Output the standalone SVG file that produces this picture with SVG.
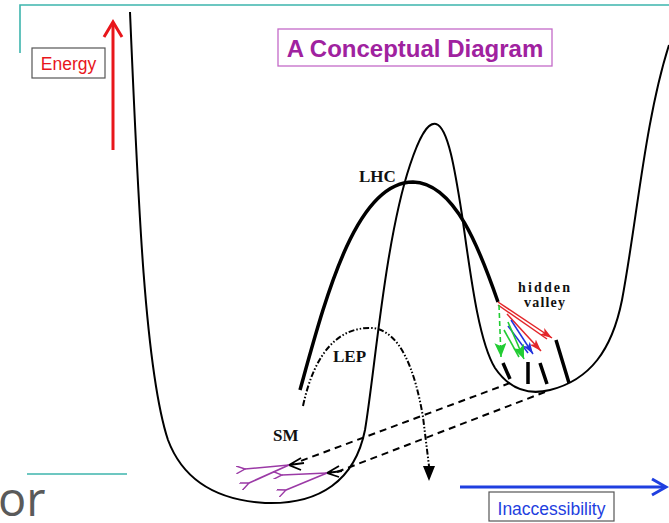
<svg xmlns="http://www.w3.org/2000/svg" width="669" height="523" viewBox="0 0 669 523">
<style>
.teal{stroke:#3db5ad;stroke-width:1.6;fill:none}
.curve{stroke:#000;stroke-width:2;fill:none}
.thick{stroke:#000;stroke-width:3.5;fill:none;stroke-linecap:butt}
.dash{stroke:#000;stroke-width:2;fill:none;stroke-dasharray:7 5}
.box{fill:#fff;stroke:#555;stroke-width:1.2}
.lbl{font-family:"Liberation Serif",serif;font-weight:bold;fill:#111}
.sans{font-family:"Liberation Sans",Arial,sans-serif}
.red{stroke:#e3262a;stroke-width:1.5;fill:none}
.blue{stroke:#2233dd;stroke-width:1.5;fill:none}
.green{stroke:#22cc33;stroke-width:1.6;fill:none}
.purple{stroke:#9b3aa6;stroke-width:1.6;fill:none}
</style>
<defs>
<marker id="mRed" viewBox="0 0 12 8" refX="12" refY="4" markerWidth="12" markerHeight="8" markerUnits="userSpaceOnUse" orient="auto"><path d="M0,0 L12,4 L0,8 L3,4 z" fill="#e3262a"/></marker>
<marker id="mBlue" viewBox="0 0 12 8" refX="12" refY="4" markerWidth="12" markerHeight="8" markerUnits="userSpaceOnUse" orient="auto"><path d="M0,0 L12,4 L0,8 L3,4 z" fill="#2233dd"/></marker>
<marker id="mGreen" viewBox="0 0 14 12" refX="14" refY="6" markerWidth="14" markerHeight="12" markerUnits="userSpaceOnUse" orient="auto"><path d="M0,0 L14,6 L0,12 L3,6 z" fill="#22cc33"/></marker>
<marker id="mPurple" viewBox="0 0 10 8" refX="1" refY="4" markerWidth="10" markerHeight="8" markerUnits="userSpaceOnUse" orient="auto-start-reverse"><path d="M10,0 L1,4 L10,8" fill="none" stroke="#9b3aa6" stroke-width="1.4"/></marker>
</defs>

<g id="frame">
<path class="teal" d="M20,53 L20,5 L669,5"/>
<path class="teal" d="M27,474 L127,474"/>
<text x="-2" y="516" font-family="'Open Sans','Liberation Sans',sans-serif" font-size="47" fill="#5a5a5a">or</text>
</g>

<g id="energy-axis">
<path d="M113,150 L113,23" stroke="#e8161b" stroke-width="3" fill="none"/>
<path d="M104,37 L113,22 L122,37" stroke="#e8161b" stroke-width="3" fill="none" stroke-linejoin="miter"/>
<rect class="box" x="32" y="48" width="73" height="30"/>
<text class="sans" x="68.5" y="70" font-size="17.5" fill="#e8161b" text-anchor="middle">Energy</text>
</g>

<g id="title">
<rect x="278" y="29" width="274" height="37" fill="#fff" stroke="#c46ac8" stroke-width="1.3"/>
<text class="sans" x="415" y="57" font-size="24" font-weight="bold" fill="#a0229f" text-anchor="middle">A Conceptual Diagram</text>
</g>

<g id="inaccessibility-axis">
<path d="M460,487 L664,487" stroke="#1f3fe0" stroke-width="3" fill="none"/>
<path d="M652,479 L666,487 L652,495" stroke="#1f3fe0" stroke-width="3" fill="none"/>
<rect class="box" x="489" y="492" width="125" height="29"/>
<text class="sans" x="551.5" y="515" font-size="17.5" fill="#1f3fe0" text-anchor="middle">Inaccessibility</text>
</g>

<g id="potential">
<path class="curve" d="M130,12 C138,200 145,370 168,440 C183,480 215,500 265,503 C320,505 355,480 365,430 C375,370 385,240 410,165 C420,135 428,122 436,124 C448,127 455,170 462,215 C470,270 478,340 495,368 C510,390 530,395 550,390 C590,380 612,350 622,300 C637,220 645,120 669,45"/>
</g>

<g id="lhc">
<path class="thick" d="M300,390 C325,300 355,182 413,182 C455,183 480,250 498,302"/>
<text class="lbl" x="359" y="182" font-size="17">LHC</text>
</g>

<g id="lep">
<path d="M303,406 C315,350 340,327 372,328 C400,330 415,370 423,417 L429,466" stroke="#000" stroke-width="2" fill="none" stroke-dasharray="6 2 1.5 2 1.5 2"/>
<path d="M423,466 L435,466 L429,481 z" fill="#000"/>
<text class="lbl" x="333" y="362" font-size="17">LEP</text>
</g>

<g id="hidden-valley">
<text class="lbl" x="518" y="292" font-size="14" textLength="52" lengthAdjust="spacing">hidden</text>
<text class="lbl" x="524" y="307" font-size="14" textLength="41" lengthAdjust="spacing">valley</text>
<path class="thick" d="M503,363 L510,379 M528,362 L528,384 M540,363 L547,384 M556,340 L569,383" stroke-width="3"/>
</g>

<g id="sm">
<text class="lbl" x="273" y="441" font-size="17">SM</text>
</g>

<g id="connectors">
<path class="red" d="M498,302 L552,338" marker-end="url(#mRed)"/>
<path class="red" d="M498,305 L547,339"/>
<path class="red" d="M507,314 L541,351" marker-end="url(#mRed)"/>
<path class="blue" d="M511,320 L533,354" marker-end="url(#mBlue)"/>
<path class="blue" d="M508,326 L528,353"/>
<path class="green" d="M499,305 L501,357" stroke-dasharray="5 3" marker-end="url(#mGreen)"/>
<path class="green" d="M508,322 L524,359" marker-end="url(#mGreen)"/>
<path class="green" d="M504,330 L519,357"/>
<path class="dash" d="M510,383 L298,462"/>
<path class="dash" d="M545,392 L337,472"/>
<path d="M301,458 L289,465 L301,470 M289,465 L304,463" stroke="#000" stroke-width="1.8" fill="none"/>
<path d="M339,466 L327,473 L339,477 M327,473 L342,471" stroke="#000" stroke-width="1.8" fill="none"/>
<path class="purple" d="M289,465 L245,469" marker-end="url(#mPurple)"/>
<path class="purple" d="M289,465 L249,483" marker-end="url(#mPurple)"/>
<path class="purple" d="M327,473 L282,475" marker-end="url(#mPurple)"/>
<path class="purple" d="M327,473 L286,490" marker-end="url(#mPurple)"/>
</g>
</svg>
